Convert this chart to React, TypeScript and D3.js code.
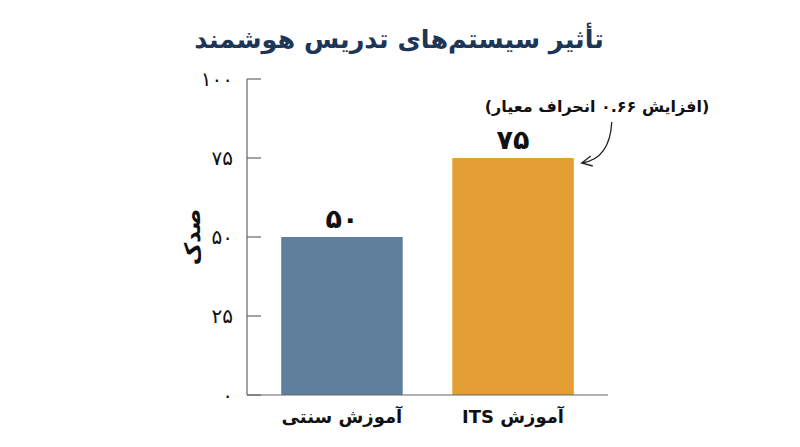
import React from 'react';
import * as d3 from 'd3';

const categories = ['آموزش سنتی', 'آموزش ITS'];
const values = [50, 75];
const valueLabels = ['۵۰', '۷۵'];
const barColors = ['#5f7f9c', '#e39e34'];
const yTicks = [0, 25, 50, 75, 100];
const yTickLabels = ['۰', '۲۵', '۵۰', '۷۵', '۱۰۰'];
const title = 'تأثیر سیستم‌های تدریس هوشمند';
const yLabel = 'صدک';
const annotation = '(افزایش ۰.۶۶ انحراف معیار)';

const W = 800;
const H = 447;
const FONT = '"DejaVu Sans", sans-serif';

export default function App() {
  const x = d3.scaleBand<string>()
    .domain(categories)
    .range([247, 608])
    .paddingInner(0.29)
    .paddingOuter(0.2);
  const y = d3.scaleLinear().domain([0, 100]).range([395, 79]);

  // arrow from annotation to the ITS bar
  const itsRight = (x(categories[1]) || 0) + x.bandwidth();
  const arrowEnd: [number, number] = [itsRight + 8, y(values[1]) + 5];
  const arrowStart: [number, number] = [itsRight + 38, 122];
  const arrowPath = d3.path();
  arrowPath.moveTo(arrowStart[0], arrowStart[1]);
  arrowPath.quadraticCurveTo(arrowStart[0] - 2, arrowEnd[1] - 4, arrowEnd[0], arrowEnd[1]);

  return (
    <svg
      width={W}
      height={H}
      style={{ position: 'fixed', top: 0, left: 0, background: '#fff' }}
      fontFamily={FONT}
    >
      <text x={399} y={48} textAnchor="middle" fontSize={25.5} fontWeight="bold" fill="#1d3557" direction="rtl">
        {title}
      </text>

      {/* y axis */}
      <line x1={247} x2={247} y1={y(100)} y2={y(0)} stroke="#666" strokeWidth={1.2} />
      {yTicks.map((t, i) => (
        <g key={t}>
          <line x1={247} x2={261} y1={y(t)} y2={y(t)} stroke="#666" strokeWidth={1.2} />
          <text x={233} y={y(t)} dy="0.35em" textAnchor="end" fontSize={20} fill="#111">
            {yTickLabels[i]}
          </text>
        </g>
      ))}
      <text
        transform={`translate(192,${y(50)}) rotate(-90)`}
        textAnchor="middle"
        dy="0.35em"
        fontSize={22}
        fontWeight="bold"
        fill="#111"
      >
        {yLabel}
      </text>

      {/* bars */}
      {categories.map((c, i) => (
        <g key={c}>
          <rect
            x={x(c)}
            y={y(values[i])}
            width={x.bandwidth()}
            height={y(0) - y(values[i])}
            fill={barColors[i]}
          />
          <text
            x={(x(c) || 0) + x.bandwidth() / 2}
            y={y(values[i]) - 9}
            textAnchor="middle"
            fontSize={27}
            fontWeight="bold"
            fill="#111"
          >
            {valueLabels[i]}
          </text>
          <text
            x={(x(c) || 0) + x.bandwidth() / 2}
            y={y(0) + 28}
            textAnchor="middle"
            fontSize={18}
            fontWeight="bold"
            fill="#111"
            direction="rtl"
          >
            {c}
          </text>
        </g>
      ))}

      {/* baseline */}
      <line x1={247} x2={608} y1={y(0)} y2={y(0)} stroke="#666" strokeWidth={1.2} />

      {/* annotation */}
      <text x={597} y={112} textAnchor="middle" fontSize={16} fontWeight="bold" fill="#111" direction="rtl">
        {annotation}
      </text>
      <path d={arrowPath.toString()} fill="none" stroke="#222" strokeWidth={1.3} />
      <path
        d={`M${arrowEnd[0] + 9},${arrowEnd[1] - 7} L${arrowEnd[0]},${arrowEnd[1]} L${arrowEnd[0] + 11},${arrowEnd[1] + 3}`}
        fill="none"
        stroke="#222"
        strokeWidth={1.3}
      />
    </svg>
  );
}
